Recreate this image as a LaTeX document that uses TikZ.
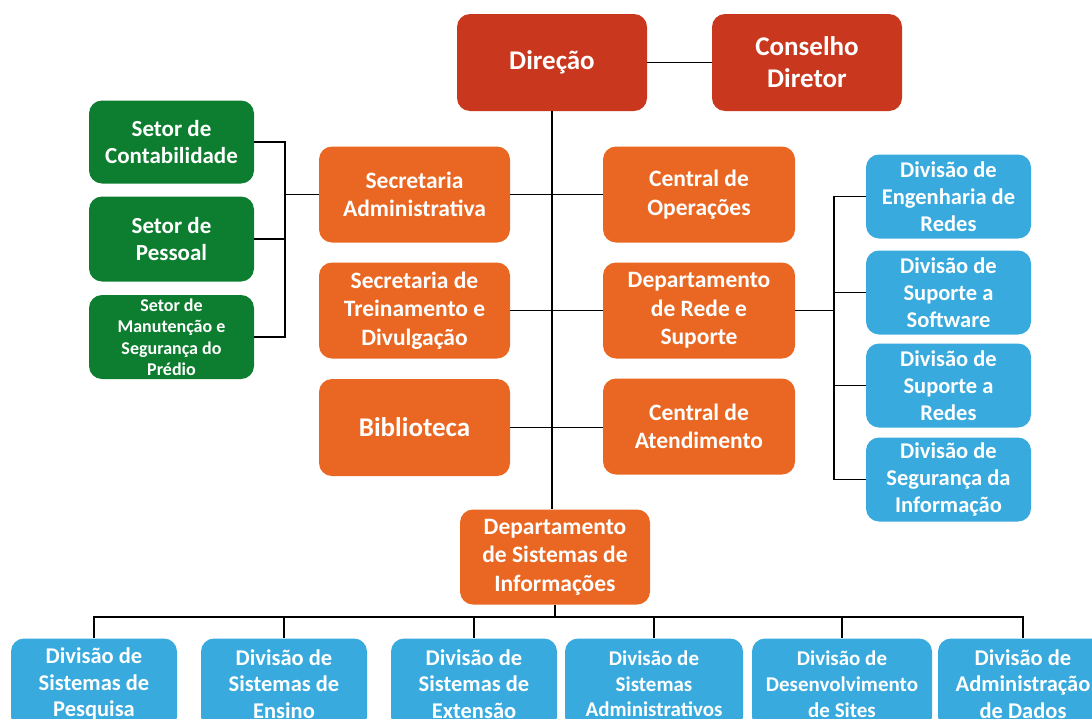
\documentclass[tikz,border=0pt]{standalone}
\usepackage{fontspec}
\setmainfont{Carlito}
\definecolor{cred}{RGB}{201,55,30}
\definecolor{corange}{RGB}{233,103,34}
\definecolor{cgreen}{RGB}{13,126,47}
\definecolor{cblue}{RGB}{56,170,222}
\tikzset{
  box/.style={rounded corners=13pt, inner sep=0pt, align=center, text=white, font=\bfseries\fontsize{23.5}{28.5}\selectfont},
  redbox/.style={box, fill=cred, minimum width=190pt, minimum height=97pt, font=\bfseries\fontsize{27}{32}\selectfont},
  orbox/.style={box, fill=corange, minimum width=191pt, minimum height=96pt},
  grbox/.style={box, fill=cgreen, minimum width=165pt, minimum height=84pt, font=\bfseries\fontsize{23}{27}\selectfont},
  blbox/.style={box, fill=cblue, minimum width=165pt, minimum height=84pt, font=\bfseries\fontsize{22.5}{27}\selectfont},
  btbox/.style={box, fill=cblue, minimum height=91pt, font=\bfseries\fontsize{22.5}{26.5}\selectfont},
  conn/.style={draw=black, line width=1.8pt}
}
\begin{document}
\begin{tikzpicture}[x=1pt,y=-1pt]
\useasboundingbox (0,0) rectangle (1092,718);
\clip (0,0) rectangle (1092,718);
% top
\node[redbox] (dir) at (552,62.5) {Direção};
\node[redbox] (cons) at (807,62.5) {Conselho\\Diretor};
% orange
\node[orbox] (secadm) at (414.5,194.5) {Secretaria\\Administrativa};
\node[orbox, minimum width=192pt] (cop) at (699,194.5) {Central de\\Operações};
\node[orbox] (sectr) at (414.5,310.5) {Secretaria de\\Treinamento e\\Divulgação};
\node[orbox, minimum width=192pt] (drs) at (699,310.5) {Departamento\\de Rede e\\Suporte};
\node[orbox, minimum height=97pt, font=\bfseries\fontsize{27}{30}\selectfont] (bib) at (414.5,427.5) {Biblioteca};
\node[orbox, minimum width=192pt] (cat) at (699,426.5) {Central de\\Atendimento};
\node[orbox, minimum width=190pt, minimum height=95pt] (dsi) at (555,557) {Departamento\\de Sistemas de\\Informações};
% green
\node[grbox, minimum height=83pt] (contab) at (171.5,142) {Setor de\\Contabilidade};
\node[grbox, minimum height=85pt] (pessoal) at (171.5,239) {Setor de\\Pessoal};
\node[grbox, font=\bfseries\fontsize{18}{21.5}\selectfont] (manut) at (171.5,337) {Setor de\\Manutenção e\\Segurança do\\Prédio};
% right blue
\node[blbox] (eng) at (948.5,196.5) {Divisão de\\Engenharia de\\Redes};
\node[blbox] (sws) at (948.5,292.5) {Divisão de\\Suporte a\\Software};
\node[blbox] (sred) at (948.5,385.5) {Divisão de\\Suporte a\\Redes};
\node[blbox] (seg) at (948.5,479.5) {Divisão de\\Segurança da\\Informação};
% bottom
\node[btbox, minimum width=166pt] (b1) at (94,684) {Divisão de\\Sistemas de\\Pesquisa};
\node[btbox, minimum width=166pt] (b2) at (284,684) {Divisão de\\Sistemas de\\Ensino};
\node[btbox, minimum width=166pt] (b3) at (474,684) {Divisão de\\Sistemas de\\Extensão};
\node[btbox, minimum width=178pt, font=\bfseries\fontsize{21}{25.5}\selectfont] (b4) at (654,684) {Divisão de\\Sistemas\\Administrativos};
\node[btbox, minimum width=180pt, font=\bfseries\fontsize{21}{26}\selectfont] (b5) at (842,684) {Divisão de\\Desenvolvimento\\de Sites};
\node[btbox, minimum width=170pt] (b6) at (1023,684) {Divisão de\\Administração\\de Dados};
% coordinates
\coordinate (lb) at (285,0);
\coordinate (rb) at (834,0);
\coordinate (bus) at (0,617);
% connectors
\draw[conn] (dir.east |- cons.west) -- (cons.west);
\draw[conn] (dir.south) -- (dir.south |- dsi.north);
\draw[conn] (secadm.east) -- (cop.west);
\draw[conn] (sectr.east) -- (drs.west);
\draw[conn] (bib.east) -- (bib.east -| cat.west);
\draw[conn] (contab.east) -- (contab.east -| lb) -- (manut.east -| lb) -- (manut.east);
\draw[conn] (pessoal.east) -- (pessoal.east -| lb);
\draw[conn] (secadm.west) -- (secadm.west -| lb);
\draw[conn] (eng.west) -- (eng.west -| rb) -- (seg.west -| rb) -- (seg.west);
\draw[conn] (sws.west) -- (sws.west -| rb);
\draw[conn] (sred.west) -- (sred.west -| rb);
\draw[conn] (drs.east) -- (drs.east -| rb);
\draw[conn] (dsi.south) -- (dsi.south |- bus);
\draw[conn] ([xshift=-0.9pt]b1.north |- bus) -- ([xshift=0.9pt]b6.north |- bus);
\foreach \b in {b1,b2,b3,b4,b5,b6} \draw[conn] (\b.north |- bus) -- (\b.north);
\end{tikzpicture}
\end{document}
